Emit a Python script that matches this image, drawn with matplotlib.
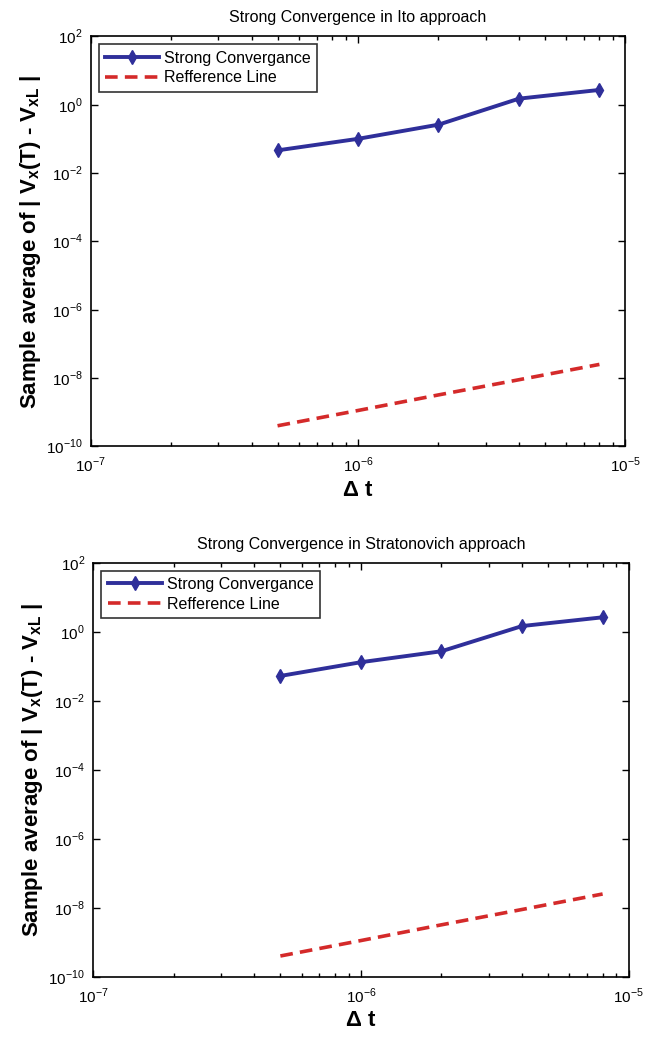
import matplotlib
matplotlib.use("Agg")
import matplotlib.pyplot as plt
from matplotlib.ticker import LogLocator, FixedLocator, NullFormatter

plt.rcParams['font.family'] = ['Liberation Sans', 'DejaVu Sans']
plt.rcParams['mathtext.fontset'] = 'custom'
plt.rcParams['mathtext.rm'] = 'Liberation Sans'
plt.rcParams['mathtext.bf'] = 'Liberation Sans:bold'

dt = [5e-7, 1e-6, 2e-6, 4e-6, 8e-6]
ito_err = [0.046, 0.10, 0.26, 1.5, 2.7]
strat_err = [0.052, 0.13, 0.27, 1.45, 2.6]
ref_line = [4.0e-10, 1.12e-9, 3.2e-9, 8.9e-9, 2.5e-8]

titles = ["Strong Convergence in Ito approach",
          "Strong Convergence in Stratonovich approach"]
series = [ito_err, strat_err]
legend_labels = ["Strong Convergance", "Refference Line"]
xlabel = "Δ t"
ylabel = r"Sample average of | V$_\mathbf{x}$(T) - V$_\mathbf{xL}$ |"
xticks = [1e-7, 1e-6, 1e-5]
xticklabels = ["10$^{-7}$", "10$^{-6}$", "10$^{-5}$"]
yticks = [1e-10, 1e-8, 1e-6, 1e-4, 1e-2, 1e0, 1e2]
yticklabels = ["10$^{-10}$", "10$^{-8}$", "10$^{-6}$", "10$^{-4}$",
               "10$^{-2}$", "10$^{0}$", "10$^{2}$"]

blue = "#2f2f9a"
red = "#d42a2a"

fig = plt.figure(figsize=(6.48, 10.38), dpi=100)
positions = [[0.140, 0.570, 0.825, 0.395],
             [0.144, 0.059, 0.826, 0.399]]

for pos, title, err in zip(positions, titles, series):
    ax = fig.add_axes(pos)
    ax.plot(dt, err, '-', color=blue, lw=2.8, marker='d', ms=7,
            mfc=blue, mec=blue, label=legend_labels[0])
    ax.plot(dt, ref_line, '--', color=red, lw=2.6, dashes=(3.5, 2),
            label=legend_labels[1])
    ax.set_xscale('log')
    ax.set_yscale('log')
    ax.set_xlim(1e-7, 1e-5)
    ax.set_ylim(1e-10, 1e2)
    ax.yaxis.set_major_locator(FixedLocator(yticks))
    ax.set_yticklabels(yticklabels)
    ax.yaxis.set_minor_locator(FixedLocator([]))
    ax.xaxis.set_major_locator(FixedLocator(xticks))
    ax.set_xticklabels(xticklabels)
    ax.xaxis.set_minor_locator(LogLocator(base=10, subs=range(2, 10)))
    ax.xaxis.set_minor_formatter(NullFormatter())
    ax.tick_params(which='both', direction='in', top=True, right=True,
                   labelsize=11, width=1)
    ax.tick_params(axis='x', which='major', pad=7)
    ax.tick_params(axis='y', which='major', pad=6)
    ax.tick_params(which='major', length=5)
    ax.tick_params(which='minor', length=3)
    for s in ax.spines.values():
        s.set_linewidth(1.2)
    ax.set_title(title, fontsize=11.5, pad=10)
    ax.set_xlabel(xlabel, fontsize=16, fontweight='bold', labelpad=3)
    ax.set_ylabel(ylabel, fontsize=16, fontweight='bold', labelpad=2)
    leg = ax.legend(loc='upper left', fontsize=11.5, frameon=True, fancybox=False,
                    edgecolor='black', handlelength=3.4, borderpad=0.4,
                    labelspacing=0.3, handletextpad=0.3, borderaxespad=0.5)
    leg.get_frame().set_linewidth(1.2)

fig.savefig("out.png", dpi=100)
